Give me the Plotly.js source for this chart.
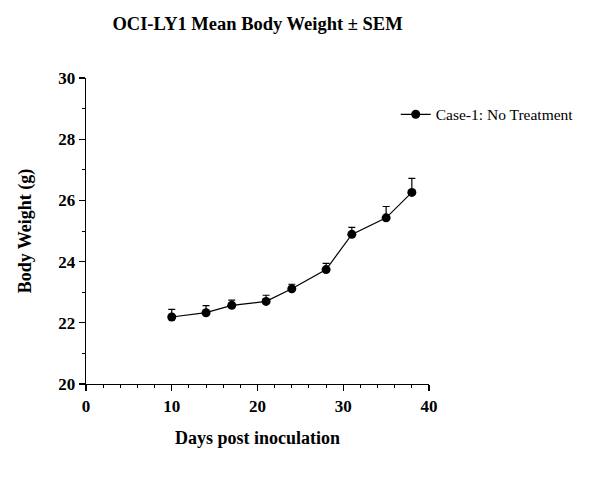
<!DOCTYPE html>
<html>
<head>
<meta charset="utf-8">
<script src="https://cdn.plot.ly/plotly-3.0.1.min.js"></script>
<style>
  html, body { margin: 0; padding: 0; background: #fff; }
  #chart { width: 592px; height: 480px; }
</style>
</head>
<body>
<div id="chart"></div>
<script>
// Mean body weight per measurement day (g) and its SEM
const days = [10, 14, 17, 21, 24, 28, 31, 35, 38];
const meanWeight = [22.19, 22.33, 22.57, 22.70, 23.11, 23.74, 24.89, 25.43, 26.26];
const semWeight = [0.25, 0.23, 0.17, 0.20, 0.15, 0.20, 0.23, 0.37, 0.46];
const seriesName = 'Case-1: No Treatment';

const serif = '"Liberation Serif", "Times New Roman", serif';

const trace = {
  x: days,
  y: meanWeight,
  name: seriesName,
  type: 'scatter',
  mode: 'lines+markers',
  line: { color: '#000', width: 1.2 },
  marker: { color: '#000', size: 9, symbol: 'circle' },
  error_y: {
    type: 'data',
    symmetric: false,
    array: semWeight,
    arrayminus: semWeight.map(() => 0),
    color: '#000',
    thickness: 1.2,
    width: 3.5
  }
};

const layout = {
  width: 592,
  height: 480,
  margin: { l: 86, r: 163, t: 78, b: 96 },
  paper_bgcolor: '#fff',
  plot_bgcolor: '#fff',
  font: { family: serif, color: '#000' },
  title: {
    text: '<b>OCI-LY1 Mean Body Weight ± SEM</b>',
    font: { family: serif, size: 18.5, color: '#000' },
    x: 0.435, xanchor: 'center', y: 0.95, yanchor: 'middle'
  },
  xaxis: {
    range: [0, 40],
    tickmode: 'linear', tick0: 0, dtick: 10,
    ticks: 'outside', ticklen: 6, tickwidth: 1.3, tickcolor: '#000',
    minor: { tickmode: 'linear', dtick: 2, ticks: 'outside', ticklen: 3, tickwidth: 1, tickcolor: '#000', showgrid: false },
    showline: true, linecolor: '#000', linewidth: 1.3,
    showgrid: false, zeroline: false,
    tickfont: { family: serif, size: 17, color: '#000', weight: 'bold' },
    title: { text: '<b>Days post inoculation</b>', font: { family: serif, size: 18, color: '#000' }, standoff: 16 }
  },
  yaxis: {
    range: [20, 30],
    tickmode: 'linear', tick0: 20, dtick: 2,
    ticks: 'outside', ticklen: 6, tickwidth: 1.3, tickcolor: '#000',
    minor: { tickmode: 'linear', dtick: 1, ticks: 'outside', ticklen: 3, tickwidth: 1, tickcolor: '#000', showgrid: false },
    showline: true, linecolor: '#000', linewidth: 1.3,
    showgrid: false, zeroline: false,
    tickfont: { family: serif, size: 17, color: '#000', weight: 'bold' },
    title: { text: '<b>Body Weight (g)</b>', font: { family: serif, size: 18, color: '#000' }, standoff: 22 }
  },
  showlegend: true,
  legend: {
    x: 0.903, xanchor: 'left',
    y: 0.88, yanchor: 'middle',
    bgcolor: 'rgba(0,0,0,0)',
    font: { family: serif, size: 15.5, color: '#000' }
  }
};

Plotly.newPlot('chart', [trace], layout, { displayModeBar: false, staticPlot: true });
</script>
</body>
</html>
